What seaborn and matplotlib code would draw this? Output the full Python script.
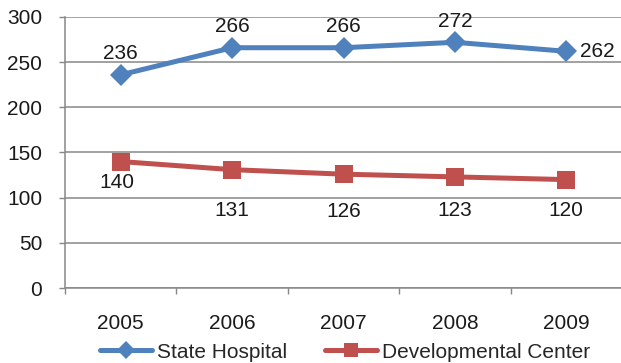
import matplotlib
matplotlib.use("Agg")
import matplotlib.pyplot as plt
import seaborn as sns
import pandas as pd
from matplotlib.lines import Line2D
from matplotlib.ticker import FixedLocator

years = ["2005", "2006", "2007", "2008", "2009"]
state_hospital = [236, 266, 266, 272, 262]
developmental_center = [140, 131, 126, 123, 120]
series_names = ["State Hospital", "Developmental Center"]
y_ticks = [0, 50, 100, 150, 200, 250, 300]

# label offsets in pixels (dx, dy) relative to each marker
sh_offsets = [(0, 21), (0, 21), (0, 21), (0, 21), (31, 0)]
dc_offsets = [(-4, -21), (0, -41), (0, -37), (0, -34), (0, -31)]

BLUE = "#4F81BD"
RED = "#C0504D"
GRID = "#878787"
TEXT = "#1a1a1a"

sns.set_theme(style="white")
plt.rcParams["font.family"] = ["Liberation Sans", "DejaVu Sans"]
FS = 15

df = pd.DataFrame({
    "year": years * 2,
    "value": state_hospital + developmental_center,
    "series": [series_names[0]] * len(years) + [series_names[1]] * len(years),
})

fig = plt.figure(figsize=(6.21, 3.63), dpi=100)
ax = fig.add_axes([65 / 621, 75 / 363, 557 / 621, 271 / 363])

sns.lineplot(data=df[df.series == series_names[0]], x="year", y="value",
             color=BLUE, linewidth=3.6, marker="D", markersize=11.5,
             markeredgewidth=0, ax=ax, legend=False)
sns.lineplot(data=df[df.series == series_names[1]], x="year", y="value",
             color=RED, linewidth=3.6, marker="s", markersize=13.5,
             markeredgewidth=0, ax=ax, legend=False)

ax.set_xlim(-0.5, len(years) - 0.5)
ax.set_ylim(0, 300)
ax.set_yticks(y_ticks)
ax.set_yticklabels([str(v) for v in y_ticks], fontsize=FS, color=TEXT)
ax.set_xticks(range(len(years)))
ax.set_xticklabels(years, fontsize=FS, color=TEXT)
ax.xaxis.set_minor_locator(FixedLocator([i - 0.5 for i in range(len(years) + 1)]))
ax.tick_params(axis="x", which="major", length=0, pad=19)
ax.tick_params(axis="x", which="minor", length=4.3, width=1, color=GRID, bottom=True)
ax.tick_params(axis="y", which="major", length=4.3, width=1, color=GRID, left=True, pad=12)
ax.set_xlabel("")
ax.set_ylabel("")

ax.grid(axis="y", color=GRID, linewidth=1.1)
ax.grid(axis="x", visible=False)
ax.set_axisbelow(True)
for side in ["top", "right"]:
    ax.spines[side].set_visible(False)
for side in ["left", "bottom"]:
    ax.spines[side].set_color(GRID)
    ax.spines[side].set_linewidth(1.1)

px = 72 / 100
for i, v in enumerate(state_hospital):
    dx, dy = sh_offsets[i]
    ax.annotate(str(v), (i, v), xytext=(dx * px, dy * px), textcoords="offset points",
                ha="center", va="center", fontsize=FS, color=TEXT)
for i, v in enumerate(developmental_center):
    dx, dy = dc_offsets[i]
    ax.annotate(str(v), (i, v), xytext=(dx * px, dy * px), textcoords="offset points",
                ha="center", va="center", fontsize=FS, color=TEXT)

handles = [
    Line2D([], [], color=BLUE, linewidth=3.6, marker="D", markersize=9, markeredgewidth=0),
    Line2D([], [], color=RED, linewidth=3.6, marker="s", markersize=10, markeredgewidth=0),
]
fig.legend(handles, series_names, loc="center", bbox_to_anchor=(0.556, 11 / 363),
           ncol=2, frameon=False, fontsize=FS, handlelength=2.5,
           handletextpad=0.25, columnspacing=1.8)

fig.savefig("out.png", dpi=100)
